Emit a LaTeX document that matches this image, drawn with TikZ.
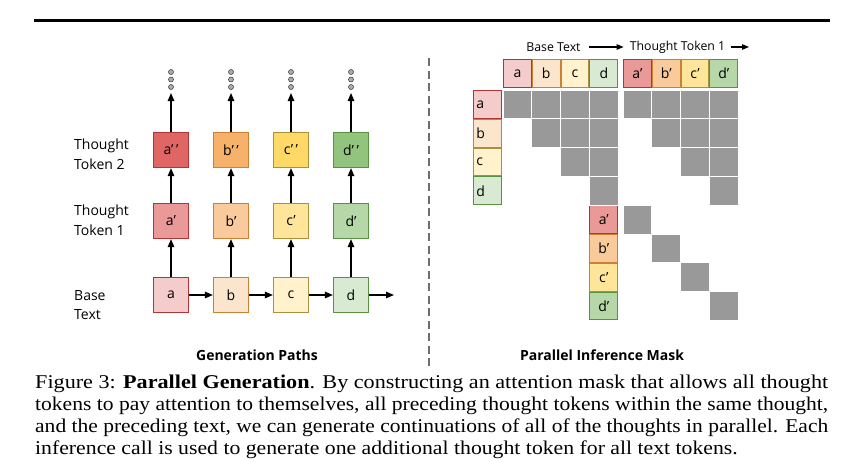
\documentclass[tikz,border=0pt]{standalone}
\usepackage{fontspec}
\setmainfont{Liberation Serif}
\newfontfamily\dfont{Open Sans}
\usepackage{graphicx}
\usetikzlibrary{arrows.meta}
\definecolor{cAL}{HTML}{F4CCCC}\definecolor{cAM}{HTML}{EA9999}\definecolor{cAD}{HTML}{E06666}\definecolor{cAB}{HTML}{B23434}
\definecolor{cBL}{HTML}{FCE5CD}\definecolor{cBM}{HTML}{F9CB9C}\definecolor{cBD}{HTML}{F6B26B}\definecolor{cBB}{HTML}{CC8033}
\definecolor{cCL}{HTML}{FFF2CC}\definecolor{cCM}{HTML}{FFE599}\definecolor{cCD}{HTML}{FFD966}\definecolor{cCB}{HTML}{A8913A}
\definecolor{cDL}{HTML}{D9EAD3}\definecolor{cDM}{HTML}{B6D7A8}\definecolor{cDD}{HTML}{93C47D}\definecolor{cDB}{HTML}{5A9140}
\definecolor{maskgray}{HTML}{999999}
\definecolor{dashgray}{HTML}{6E6E6E}
\newlength\capw
\newcommand\capfont{\fontsize{19.5}{22}\selectfont}
\newcommand\capA{Figure 3: \textbf{Parallel Generation}. By constructing an attention mask that allows all thought}
\newcommand\capB{tokens to pay attention to themselves, all preceding thought tokens within the same thought,}
\newcommand\capC{and the preceding text, we can generate continuations of all of the thoughts in parallel. Each}
\newcommand\capD{inference call is used to generate one additional thought token for all text tokens.}
\tikzset{
 tok/.style={draw, line width=1.2pt, minimum size=35pt, inner sep=0pt, font=\dfont\fontsize{14}{16}\selectfont},
 cellbox/.style={draw, line width=1.1pt, minimum size=27.8pt, inner sep=0pt, font=\dfont\fontsize{14}{16}\selectfont},
 arr/.style={line width=1.3pt, -{Triangle[length=8pt,width=6.5pt]}},
 arrs/.style={line width=1.1pt, -{Triangle[length=7pt,width=5.5pt]}},
 dotc/.style={circle, fill=gray!65, draw=gray!40!black, line width=0.5pt, minimum size=5pt, inner sep=0pt},
 lab/.style={anchor=west, align=left, font=\dfont\fontsize{14}{19.5}\selectfont, inner sep=0pt},
 ttl/.style={font=\dfont\bfseries\fontsize{14}{16}\selectfont},
 mask/.style={fill=maskgray, draw=white, line width=1pt},
 capline/.style={anchor=base west, inner sep=0pt}
}
\begin{document}
\settowidth\capw{\capfont\capA}\pgfmathsetmacro\sxA{793/\capw}%
\settowidth\capw{\capfont\capB}\pgfmathsetmacro\sxB{793/\capw}%
\settowidth\capw{\capfont\capC}\pgfmathsetmacro\sxC{793/\capw}%
\pgfmathsetmacro\sxD{(\sxA+\sxB+\sxC)/3}%
\begin{tikzpicture}[x=1pt,y=-1pt]
\useasboundingbox (0,0) rectangle (853,461);
% top rule
\coordinate (r1) at (34,20.5);
\coordinate (r2) at (830,20.5);
\draw[line width=2.6pt] (r1) -- (r2);
% dashed separator
\coordinate (s1) at (429,58);
\coordinate (s2) at (429,368);
\draw[dashgray, line width=2pt, dash pattern=on 8pt off 4.5pt] (s1) -- (s2);

% ---------- left panel ----------
\foreach \n/\x/\col in {a/171/A, b/231/B, c/291/C, d/351/D} {
  \node[tok, fill=c\col L, draw=c\col B] (\n0) at (\x,295) {\n};
  \node[tok, fill=c\col M, draw=c\col B] (\n1) at (\x,221) {\n’};
  \node[tok, fill=c\col D, draw=c\col B] (\n2) at (\x,150) {\n’\hspace{2.5pt}’};
  \coordinate (\n3) at (\x,93);
  \node[dotc] (\n d1) at (\x,72) {};
  \node[dotc] (\n d2) at (\x,79.5) {};
  \node[dotc] (\n d3) at (\x,87) {};
  \draw[arr] (\n0) -- (\n1);
  \draw[arr] (\n1) -- (\n2);
  \draw[arr] (\n2) -- (\n3);
}
\coordinate (e0) at (394,295);
\draw[arr] (a0) -- (b0);
\draw[arr] (b0) -- (c0);
\draw[arr] (c0) -- (d0);
\draw[arr] (d0) -- (e0);

\node[lab] (l2) at (74,154) {Thought\\Token 2};
\node[lab] (l1) at (74,220) {Thought\\Token 1};
\node[lab] (l0) at (74,305) {Base\\Text};
\node[ttl] (t1) at (257,355) {Generation Paths};

% ---------- right panel ----------
\node[font=\dfont\fontsize{12.3}{14}\selectfont, inner sep=0pt] (bt) at (553.5,47) {Base Text};
\node[font=\dfont\fontsize{12.3}{14}\selectfont, inner sep=0pt] (tt) at (677.5,47) {Thought Token 1};
\coordinate (te) at (749,47);
\draw[arrs] ([xshift=8pt]bt.east) -- ([xshift=-6pt]tt.west);
\draw[arrs] ([xshift=6pt]tt.east) -- (te);

% header boxes
\foreach \n/\i/\col in {a/0/A, b/1/B, c/2/C, d/3/D} {
  \node[cellbox, fill=c\col L, draw=c\col B] (h\n) at ({517.4+28.8*\i},73.4) {\n};
  \node[cellbox, fill=c\col M, draw=c\col B] (h\n p) at ({637.4+28.8*\i},73.4) {\n’};
  \node[cellbox, fill=c\col L, draw=c\col B, text width=22pt, align=left] (v\n) at (487.4,{104.4+28.8*\i}) {\n};
  \node[cellbox, fill=c\col M, draw=c\col B] (v\n p) at (603.8,{104.4+28.8*(\i+4)}) {\n’};
}

% mask cells (row r, column k)
\foreach \r/\k in {0/0,0/1,0/2,0/3,0/4,0/5,0/6,0/7,
                   1/1,1/2,1/3,1/5,1/6,1/7,
                   2/2,2/3,2/6,2/7,
                   3/3,3/7,
                   4/4,5/5,6/6,7/7} {
  \pgfmathsetmacro\cx{\k<4 ? 503+28.8*\k : 623+28.8*(\k-4)}
  \pgfmathsetmacro\cy{90+28.8*\r}
  \path[mask] (\cx,\cy) rectangle ++(28.8,28.8);
}
\node[ttl] (t2) at (602,355) {Parallel Inference Mask};

% ---------- caption ----------
\node[capline] (cap1) at (35,388) {\capfont\scalebox{\sxA}[1]{\capA}};
\node[capline] (cap2) at (35,410) {\capfont\scalebox{\sxB}[1]{\capB}};
\node[capline] (cap3) at (35,432) {\capfont\scalebox{\sxC}[1]{\capC}};
\node[capline] (cap4) at (35,454) {\capfont\scalebox{\sxD}[1]{\capD}};
\end{tikzpicture}
\end{document}
